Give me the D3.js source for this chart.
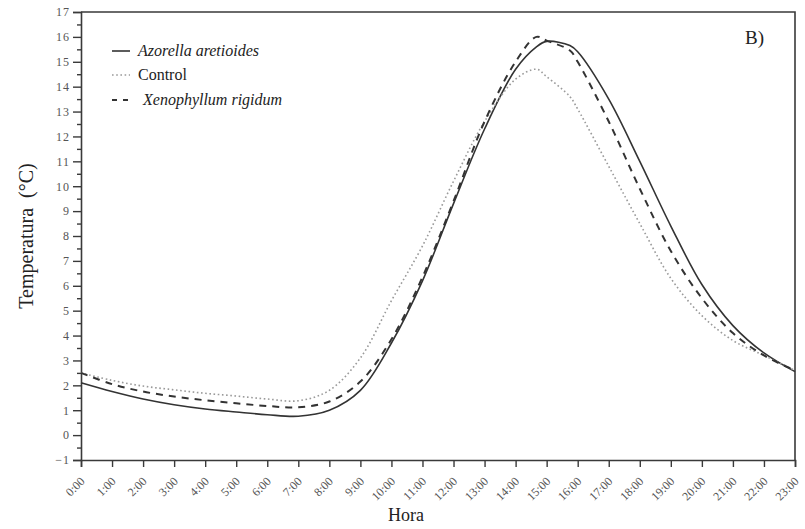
<!DOCTYPE html>
<html>
<head>
<meta charset="utf-8">
<script src="https://cdn.jsdelivr.net/npm/d3@7"></script>
<style>
  body { margin: 0; background: #fff; }
  svg { display: block; }
  svg text { font-family: "Liberation Serif", "DejaVu Serif", serif; }
</style>
</head>
<body>
<svg id="chart" width="805" height="529"></svg>
<script>
// Hour of each reading (decimal hours)
const times = [0, 1, 2, 3, 4, 5, 6, 7, 8, 9, 10, 11, 12, 13, 14, 14.67, 15, 15.75, 16, 17, 18, 19, 20, 21, 22, 23];

// Temperature (°C) per reading
const azorella = [2.1, 1.75, 1.45, 1.22, 1.05, 0.93, 0.82, 0.76, 1.0, 1.8, 3.7, 6.2, 9.3, 12.3, 14.7, 15.6, 15.82, 15.65, 15.4, 13.5, 11.0, 8.4, 6.05, 4.4, 3.3, 2.55];
const control  = [2.5, 2.2, 1.97, 1.82, 1.68, 1.57, 1.45, 1.38, 1.8, 3.1, 5.4, 7.6, 10.2, 12.6, 14.3, 14.7, 14.4, 13.6, 13.1, 10.8, 8.5, 6.3, 4.8, 3.8, 3.2, 2.6];
const xenophyllum = [2.5, 2.05, 1.75, 1.55, 1.4, 1.28, 1.17, 1.12, 1.35, 2.15, 3.85, 6.35, 9.4, 12.6, 15.0, 16.0, 15.85, 15.45, 15.0, 12.6, 9.9, 7.4, 5.5, 4.1, 3.2, 2.6];

// Axis ticks
const hourTicks = d3.range(0, 24);
const hourLabels = hourTicks.map(h => h + ":00");
const tempTicks = d3.range(-1, 18);

const series = [
  { name: "Azorella aretioides", values: azorella, italic: true, stroke: "#333", width: 1.6, dash: null, key: null },
  { name: "Control", values: control, italic: false, stroke: "#9a9a9a", width: 1.6, dash: "1.6,2.6", key: "1.6,2.6" },
  { name: "Xenophyllum rigidum", values: xenophyllum, italic: true, stroke: "#333", width: 2, dash: "7,6", key: "5,6" }
];

const svg = d3.select("#chart");
const plotLeft = 81, plotRight = 795, plotTop = 12, plotBottom = 460;

const x = d3.scaleLinear().domain([0, 23]).range([plotLeft, plotRight]);
const y = d3.scaleLinear().domain([-1, 17]).range([plotBottom, plotTop]);

const axisColor = "#3a3a3a";
const tickText = "#555";
const serif = "'Liberation Serif', 'DejaVu Serif', serif";

// frame (top and right sides)
svg.append("path")
  .attr("d", `M${plotLeft},${plotTop}H${plotRight}V${plotBottom}`)
  .attr("fill", "none").attr("stroke", axisColor).attr("stroke-width", 1.6);

// minor y ticks
const yMinor = svg.append("g").attr("transform", `translate(${plotLeft},0)`)
  .call(d3.axisLeft(y).tickValues(d3.range(-0.5, 17, 1)).tickSize(4).tickFormat(""));
yMinor.select(".domain").remove();
yMinor.selectAll("line").attr("stroke", axisColor).attr("stroke-width", 1.4);

// major y axis
const yAxis = svg.append("g").attr("transform", `translate(${plotLeft},0)`)
  .call(d3.axisLeft(y).tickValues(tempTicks).tickSize(8).tickPadding(3).tickFormat(d3.format("d")));
yAxis.attr("font-family", null);
yAxis.select(".domain").attr("stroke", axisColor).attr("stroke-width", 1.6);
yAxis.selectAll("line").attr("stroke", axisColor).attr("stroke-width", 1.4);
yAxis.selectAll("text")
  .attr("fill", tickText).attr("font-size", 12).attr("letter-spacing", 1)
  .style("font-family", serif);

// x axis
const xAxis = svg.append("g").attr("transform", `translate(0,${plotBottom})`)
  .call(d3.axisBottom(x).tickValues(hourTicks).tickSize(7).tickFormat((d, i) => hourLabels[i]));
xAxis.attr("font-family", null);
xAxis.select(".domain").attr("stroke", axisColor).attr("stroke-width", 1.6);
xAxis.selectAll("line").attr("stroke", axisColor).attr("stroke-width", 1.4);
xAxis.selectAll("text")
  .attr("fill", tickText).attr("font-size", 12)
  .style("font-family", serif)
  .attr("text-anchor", "end")
  .attr("dy", null).attr("y", null)
  .attr("transform", "translate(4,22) rotate(-45)");

// lines
const line = values => d3.line()
  .x((d, i) => x(times[i]))
  .y(d => y(d))
  .curve(d3.curveCatmullRom.alpha(0.5))(values);

series.forEach(s => {
  svg.append("path")
    .attr("d", line(s.values))
    .attr("fill", "none")
    .attr("stroke", s.stroke)
    .attr("stroke-width", s.width)
    .attr("stroke-dasharray", s.dash);
});

// legend
const legend = svg.append("g");
const legendY = [51, 75, 100];
series.forEach((s, i) => {
  legend.append("line")
    .attr("x1", 112).attr("x2", 130)
    .attr("y1", legendY[i]).attr("y2", legendY[i])
    .attr("stroke", s.stroke).attr("stroke-width", s.width)
    .attr("stroke-dasharray", s.key);
  legend.append("text")
    .attr("x", i === 2 ? 143 : 138).attr("y", legendY[i] + 5)
    .attr("font-size", 16)
    .attr("font-style", s.italic ? "italic" : "normal")
    .attr("fill", "#222")
    .style("font-family", serif)
    .text(s.name);
});

// panel tag
svg.append("text").attr("x", 745).attr("y", 44)
  .attr("font-size", 19).attr("fill", "#222").style("font-family", serif).text("B)");

// axis titles
svg.append("text").attr("x", 406).attr("y", 521)
  .attr("text-anchor", "middle").attr("font-size", 18).attr("fill", "#222")
  .style("font-family", serif).text("Hora");
svg.append("text")
  .attr("transform", "translate(33,236) rotate(-90)")
  .attr("text-anchor", "middle").attr("font-size", 20).attr("fill", "#222")
  .style("font-family", serif)
  .style("white-space", "pre")
  .text("Temperatura  (°C)");
</script>
</body>
</html>
